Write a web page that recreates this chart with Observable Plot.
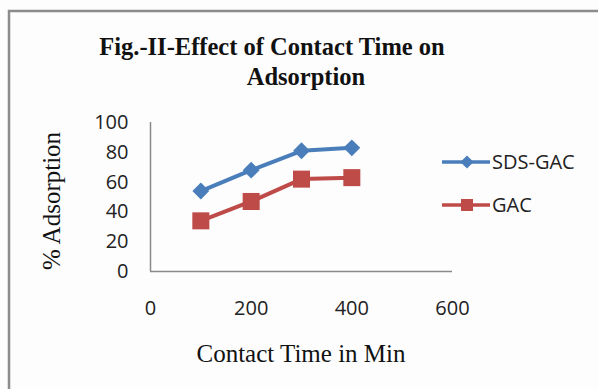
<!DOCTYPE html>
<html>
<head>
<meta charset="utf-8">
<script src="https://cdn.jsdelivr.net/npm/d3@7"></script>
<script src="https://cdn.jsdelivr.net/npm/@observablehq/plot@0.6"></script>
<style>
  html, body { margin: 0; padding: 0; background: #fdfdfd; }
  #chart svg { display: block; }
</style>
</head>
<body>
<div id="chart"></div>
<script>
// ---- data ----
const times = [100, 200, 300, 400];          // Contact time (min)
const sdsGac = [54, 68, 81, 83];             // % adsorption, SDS-GAC
const gacVals = [34, 47, 62, 63];            // % adsorption, GAC
const seriesNames = ["SDS-GAC", "GAC"];
const seriesColors = ["#4A7EBB", "#BE4B48"];
const xTicks = [0, 200, 400, 600];
const yTicks = [0, 20, 40, 60, 80, 100];
const titleLines = ["Fig.-II-Effect of Contact Time on", "Adsorption"];
const xTitle = "Contact Time in Min";
const yTitle = "% Adsorption";

const rowsSds = times.map((t, i) => ({time: t, value: sdsGac[i], series: seriesNames[0]}));
const rowsGac = times.map((t, i) => ({time: t, value: gacVals[i], series: seriesNames[1]}));

const W = 598, H = 389;
const plot = Plot.plot({
  width: W,
  height: H,
  marginLeft: 150,
  marginRight: 146,
  marginTop: 122,
  marginBottom: 118,
  style: {fontFamily: "'Open Sans', sans-serif", fontSize: "20px", color: "#222", background: "transparent", overflow: "visible"},
  x: {domain: [0, 600], ticks: xTicks, tickSize: 0, tickPadding: 29, label: null},
  y: {domain: [0, 100], ticks: yTicks, tickSize: 0, tickPadding: 22, label: null},
  color: {domain: seriesNames, range: seriesColors},
  marks: [
    Plot.ruleY([0], {stroke: "#8a8a8a", strokeWidth: 1.5}),
    Plot.ruleX([0], {stroke: "#8a8a8a", strokeWidth: 1.5}),
    Plot.line(rowsSds, {x: "time", y: "value", stroke: "series", strokeWidth: 4}),
    Plot.line(rowsGac, {x: "time", y: "value", stroke: "series", strokeWidth: 4}),
    Plot.dot(rowsSds, {x: "time", y: "value", fill: "series", stroke: "none", symbol: "diamond2", r: 7.6}),
    Plot.dot(rowsGac, {x: "time", y: "value", fill: "series", stroke: "none", symbol: "square", r: 9.6})
  ]
});
document.getElementById("chart").appendChild(plot);

// ---- decorations (frame, titles, legend) ----
const svg = d3.select(plot);
svg.insert("rect", ":first-child")
  .attr("x", 9).attr("y", 11).attr("width", 700).attr("height", 500)
  .attr("fill", "#fdfdfd").attr("stroke", "#8c8c8c").attr("stroke-width", 2.5);

const serif = "'Liberation Serif', 'Times New Roman', serif";
svg.append("text").text(titleLines[0])
  .attr("x", 272).attr("y", 55).attr("text-anchor", "middle")
  .attr("font-family", serif).attr("font-weight", "bold").attr("font-size", 24.5).attr("fill", "#111");
svg.append("text").text(titleLines[1])
  .attr("x", 306).attr("y", 85).attr("text-anchor", "middle")
  .attr("font-family", serif).attr("font-weight", "bold").attr("font-size", 24.5).attr("fill", "#111");

svg.append("text").text(xTitle)
  .attr("x", 301).attr("y", 362).attr("text-anchor", "middle")
  .attr("font-family", serif).attr("font-size", 25).attr("fill", "#111");

svg.append("text").text(yTitle)
  .attr("transform", "translate(60,201) rotate(-90)").attr("text-anchor", "middle")
  .attr("font-family", serif).attr("font-size", 25).attr("fill", "#111");

// legend
const legendY = [162, 205];
seriesNames.forEach((name, i) => {
  const g = svg.append("g");
  g.append("line").attr("x1", 442).attr("x2", 490).attr("y1", legendY[i]).attr("y2", legendY[i])
    .attr("stroke", seriesColors[i]).attr("stroke-width", 3.5);
  if (i === 0) {
    g.append("path").attr("d", d3.symbol(d3.symbolDiamond2, 110)())
      .attr("transform", `translate(467,${legendY[i]})`).attr("fill", seriesColors[i]);
  } else {
    g.append("rect").attr("x", 461).attr("y", legendY[i] - 6).attr("width", 12).attr("height", 12)
      .attr("fill", seriesColors[i]);
  }
  g.append("text").text(name).attr("x", 492).attr("y", legendY[i]).attr("dy", "0.35em")
    .attr("text-anchor", "start")
    .attr("font-family", "'Open Sans', sans-serif").attr("font-size", 20).attr("fill", "#222");
});
</script>
</body>
</html>
